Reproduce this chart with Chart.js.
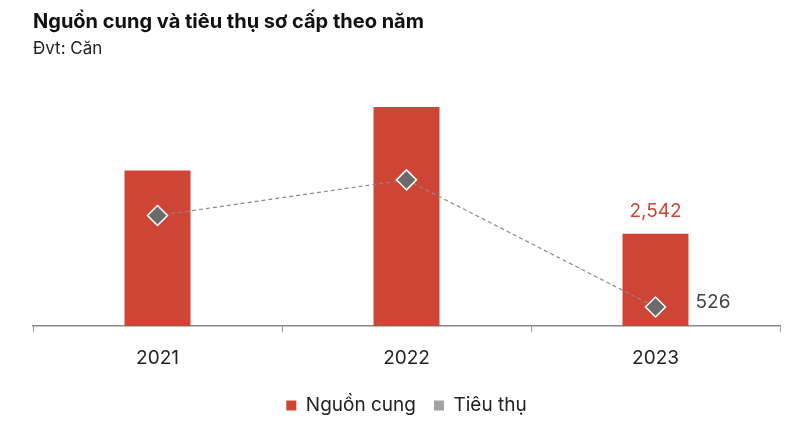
<!DOCTYPE html>
<html>
<head>
<meta charset="utf-8">
<script src="https://cdn.jsdelivr.net/npm/chart.js@4.4.1/dist/chart.umd.min.js"></script>
<style>
  html, body { margin: 0; padding: 0; background: #fff; }
  #wrap { width: 794px; height: 428px; }
</style>
</head>
<body>
<div id="wrap"><canvas id="chart"></canvas></div>
<script>
const years = ['2021', '2022', '2023'];
const supply = [4280, 6020, 2542];      // Nguồn cung
const consumption = [3040, 4020, 526];  // Tiêu thụ
const labelledIndex = 2;                // only the last year carries value labels

const RED = '#cf4535';
const GREY = '#6b6b6b';
const FONT = 'Inter, "Noto Sans", sans-serif';

// draws the value labels for 2023: supply above the bar, consumption right of the marker
const valueLabels = {
  id: 'valueLabels',
  afterDatasetsDraw(chart) {
    const ctx = chart.ctx;
    const bar = chart.getDatasetMeta(0).data[labelledIndex];
    const pt = chart.getDatasetMeta(1).data[labelledIndex];
    ctx.save();
    ctx.font = '19px ' + FONT;
    ctx.textBaseline = 'middle';
    ctx.fillStyle = RED;
    ctx.textAlign = 'center';
    ctx.fillText(supply[labelledIndex].toLocaleString('en-US'), bar.x, bar.y - 22);
    ctx.fillStyle = '#444';
    ctx.textAlign = 'left';
    ctx.fillText(consumption[labelledIndex].toLocaleString('en-US'), pt.x + 40, pt.y - 5);
    ctx.restore();
  }
};

// legend keeps a wide gap between items but sits closer to the axis labels
const legendTrim = {
  id: 'legendTrim',
  beforeLayout(chart) {
    const lg = chart.legend;
    if (!lg || lg._trimmed) return;
    const fit = lg.fit.bind(lg);
    lg.fit = function () { fit(); this.height -= 7; };
    lg._trimmed = true;
  },
  afterLayout(chart) {
    chart.legend.top -= 7;
    chart.legend.bottom -= 7;
  }
};

new Chart(document.getElementById('chart'), {
  data: {
    labels: years,
    datasets: [
      {
        type: 'bar',
        label: 'Nguồn cung',
        data: supply,
        backgroundColor: RED,
        categoryPercentage: 1,
        barPercentage: 0.265,
        order: 2
      },
      {
        type: 'line',
        label: 'Tiêu thụ',
        data: consumption,
        borderColor: '#8a8a8a',
        borderWidth: 1.2,
        borderDash: [4, 3],
        pointStyle: 'rectRot',
        pointRadius: 10,
        pointHoverRadius: 10,
        pointBackgroundColor: GREY,
        pointBorderColor: '#fff',
        pointBorderWidth: 1.5,
        fill: false,
        order: 1
      }
    ]
  },
  options: {
    responsive: true,
    maintainAspectRatio: false,
    animation: false,
    layout: { padding: { left: 33, right: 14, top: 0, bottom: 3 } },
    scales: {
      x: {
        offset: true,
        grid: { offset: true, drawOnChartArea: false, tickLength: 6, color: '#999' },
        border: { color: '#888', width: 1.5 },
        ticks: { color: '#222', font: { family: FONT, size: 19 }, padding: 15 }
      },
      y: { display: false, min: 0, max: 7000 }
    },
    plugins: {
      title: {
        display: true,
        text: 'Nguồn cung và tiêu thụ sơ cấp theo năm',
        align: 'start',
        color: '#111',
        font: { family: FONT, size: 20, weight: 'bold' },
        padding: { top: 10, bottom: 5 }
      },
      subtitle: {
        display: true,
        text: 'Đvt: Căn',
        align: 'start',
        color: '#222',
        font: { family: FONT, size: 17 },
        padding: { top: 0, bottom: 12 }
      },
      legend: {
        position: 'bottom',
        labels: {
          color: '#222',
          font: { family: FONT, size: 19 },
          boxWidth: 10,
          boxHeight: 10,
          padding: 18,
          generateLabels(chart) {
            const fills = [RED, '#a3a3a3'];
            return chart.data.datasets.map((ds, i) => ({
              text: ds.label,
              fillStyle: fills[i],
              strokeStyle: fills[i],
              lineWidth: 0,
              fontColor: '#222',
              datasetIndex: i
            }));
          }
        }
      },
      tooltip: { enabled: false }
    }
  },
  plugins: [valueLabels, legendTrim]
});
</script>
</body>
</html>
